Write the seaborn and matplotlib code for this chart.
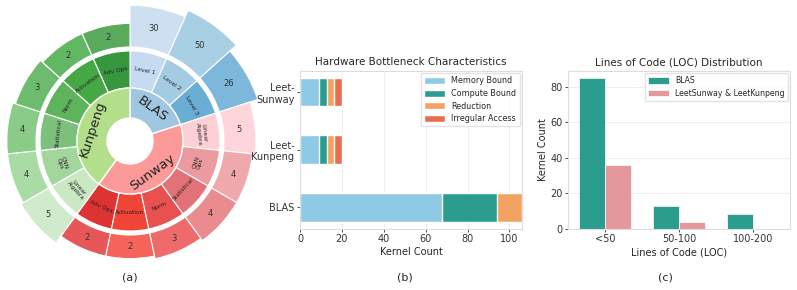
import numpy as np
import pandas as pd
import matplotlib
matplotlib.use("Agg")
import matplotlib.pyplot as plt
import seaborn as sns
from matplotlib.patches import Wedge, Patch

# ---------------- data: (a) sunburst ----------------
groups = ["BLAS", "Sunway", "Kunpeng"]
blas_cats = ["Level 1", "Level 2", "Level 3"]
blas_vals = [30, 50, 26]
sunway_cats = ["Linear\nAlgebra", "CNN\nOps", "Statistical", "Norm", "Activation", "Adv Ops"]
sunway_vals = [5, 4, 4, 3, 2, 2]
kunpeng_cats = ["Linear\nAlgebra", "CNN\nOps", "Statistical", "Norm", "Activation", "Adv Ops"]
kunpeng_vals = [5, 4, 4, 3, 2, 2]

# ---------------- data: (b) bottleneck ----------------
systems = ["Leet-\nSunway", "Leet-\nKunpeng", "BLAS"]
bottleneck_types = ["Memory Bound", "Compute Bound", "Reduction", "Irregular Access"]
memory_bound = [9, 9, 68]
compute_bound = [4, 4, 26]
reduction = [3, 3, 12]
irregular_access = [4, 4, 0]

# ---------------- data: (c) LOC ----------------
loc_bins = ["<50", "50-100", "100-200"]
loc_blas = [85, 13, 8]
loc_leet = [36, 4, 0]
loc_series = ["BLAS", "LeetSunway & LeetKunpeng"]

# ---------------- styles ----------------
group_colors = ["#9fc7e1", "#fb9a99", "#b3df8b"]
mid_colors = [
    ["#c6dbef", "#a3cbe2", "#6aaed6"],
    ["#fdd0d6", "#eb9a9f", "#e37178", "#e95050", "#f04437", "#de3333"],
    ["#c9e8c3", "#a3d69c", "#7cc07c", "#5db45d", "#45a845", "#37973f"],
]
outer_colors = [
    ["#cde0f1", "#a8cfe4", "#7db7dc"],
    ["#fdd5db", "#efa9ac", "#e98b8f", "#ef6b6b", "#f4645b", "#e65757"],
    ["#d0ebcc", "#a9dba4", "#8acb88", "#6dbc6d", "#62b862", "#5aaa5e"],
]
outer_extent = [(125, 18), (112, 14), (112, 14)]  # base radius, extra height

sns.set_theme(style="whitegrid")
plt.rcParams["font.family"] = ["DejaVu Sans"]
plt.rcParams.update({
    "axes.edgecolor": "#dddddd",
    "axes.linewidth": 0.8,
    "grid.color": "#eeeeee",
    "grid.linewidth": 0.8,
    "xtick.bottom": True,
    "ytick.left": True,
    "xtick.major.size": 2.5,
    "ytick.major.size": 2.5,
    "xtick.major.width": 0.6,
    "ytick.major.width": 0.6,
    "xtick.color": "#333333",
    "ytick.color": "#333333",
    "xtick.labelsize": 7,
    "ytick.labelsize": 7,
})

fig = plt.figure(figsize=(7.97, 2.90), dpi=100)

# ---------------- (a) sunburst ----------------
ax_a = fig.add_axes([0, 0, 270 / 797, 1])
ax_a.set_xlim(-130, 140)
ax_a.set_ylim(-149, 141)
ax_a.set_aspect("equal")
ax_a.axis("off")

all_cats = [blas_cats, sunway_cats, kunpeng_cats]
all_vals = [blas_vals, sunway_vals, kunpeng_vals]
n_leaves = sum(len(c) for c in all_cats)
step = 360.0 / n_leaves
R_HOLE, R_IN, R_MID, R_OUT0 = 23, 53, 90, 94


def tang_rot(mid):
    m = (mid + 180) % 360 - 180
    return m - 90 if m > 0 else m + 90


start = 90.0
for gi, g in enumerate(groups):
    g_start = start
    vals = all_vals[gi]
    base, h = outer_extent[gi]
    for ci, (c, v) in enumerate(zip(all_cats[gi], vals)):
        t2 = start
        t1 = start - step
        mid = (t1 + t2) / 2
        ax_a.add_patch(Wedge((0, 0), R_MID, t1, t2, width=R_MID - R_IN,
                             fc=mid_colors[gi][ci], ec="white", lw=0.8))
        R = base + h * v / max(vals)
        ax_a.add_patch(Wedge((0, 0), R, t1, t2, width=R - R_OUT0,
                             fc=outer_colors[gi][ci], ec="white", lw=0.8))
        rm = (R_IN + R_MID) / 2
        ax_a.text(rm * np.cos(np.radians(mid)), rm * np.sin(np.radians(mid)), c,
                  rotation=tang_rot(mid), rotation_mode="anchor", ha="center",
                  va="center", fontsize=4.2, color="#222222", linespacing=0.9)
        ro = (R_OUT0 + R) / 2
        ax_a.text(ro * np.cos(np.radians(mid)), ro * np.sin(np.radians(mid)), str(v),
                  ha="center", va="center", fontsize=6, color="#333333")
        start = t1
    ax_a.add_patch(Wedge((0, 0), R_IN, start, g_start, width=R_IN - R_HOLE,
                         fc=group_colors[gi], ec="white", lw=1))
    gm = (start + g_start) / 2
    rg = (R_HOLE + R_IN) / 2 + 1
    ax_a.text(rg * np.cos(np.radians(gm)), rg * np.sin(np.radians(gm)), g,
              rotation=tang_rot(gm), rotation_mode="anchor", ha="center",
              va="center", fontsize=9.5, color="#222222")

# ---------------- (b) stacked horizontal bars ----------------
bar_colors = ["#8ecae6", "#2a9d8f", "#f4a261", "#e76f51"]
ax_b = fig.add_axes([300 / 797, 1 - 228.7 / 290, 222 / 797, 158 / 290])
df_b = pd.DataFrame({"system": systems,
                     "Memory Bound": memory_bound,
                     "Compute Bound": compute_bound,
                     "Reduction": reduction,
                     "Irregular Access": irregular_access})
cum = df_b[bottleneck_types].cumsum(axis=1)
for col, color in reversed(list(zip(bottleneck_types, bar_colors))):
    sns.barplot(x=cum[col].values, y=df_b["system"].values, orient="h", color=color,
                width=0.5, saturation=1, ax=ax_b)
ax_b.set_xlim(0, 106)
ax_b.set_ylim(2.37, -0.37)
ax_b.set_xticks([0, 20, 40, 60, 80, 100])
ax_b.grid(axis="y", visible=False)
ax_b.grid(axis="x", visible=True)
ax_b.set_axisbelow(True)
ax_b.set_xlabel("Kernel Count", fontsize=7, labelpad=2)
ax_b.set_ylabel("")
ax_b.set_title("Hardware Bottleneck Characteristics", fontsize=7.5, pad=4)
ax_b.tick_params(axis="both", pad=1.5)
handles = [Patch(facecolor=c, label=l) for c, l in zip(bar_colors, bottleneck_types)]
ax_b.legend(handles=handles, loc="upper right", fontsize=5.8, frameon=True,
            edgecolor="#dddddd", fancybox=False, borderpad=0.4, labelspacing=0.45,
            handlelength=2.6, handleheight=0.9, borderaxespad=0.3)

# ---------------- (c) LOC distribution ----------------
ax_c = fig.add_axes([568.3 / 797, 1 - 228.7 / 290, 221.7 / 797, 158 / 290])
df_c = pd.DataFrame({"LOC": loc_bins * 2,
                     "count": loc_blas + loc_leet,
                     "set": [loc_series[0]] * 3 + [loc_series[1]] * 3})
sns.barplot(data=df_c, x="LOC", y="count", hue="set", order=loc_bins,
            palette=["#2a9d8f", "#e5989b"], width=0.7, saturation=1,
            edgecolor="white", linewidth=0.5, ax=ax_c)
ax_c.set_ylim(0, 89)
ax_c.set_xlim(-0.5, 2.5)
ax_c.set_yticks([0, 20, 40, 60, 80])
ax_c.grid(axis="x", visible=False)
ax_c.grid(axis="y", visible=True)
ax_c.set_axisbelow(True)
ax_c.set_xlabel("Lines of Code (LOC)", fontsize=7, labelpad=2)
ax_c.set_ylabel("Kernel Count", fontsize=7, labelpad=2)
ax_c.set_title("Lines of Code (LOC) Distribution", fontsize=7.5, pad=4)
ax_c.tick_params(axis="both", pad=1.5)
ax_c.legend(loc="upper right", fontsize=5.6, frameon=True, edgecolor="#dddddd",
            fancybox=False, title=None, borderpad=0.4, labelspacing=0.45,
            handlelength=2.6, handleheight=0.9, borderaxespad=0.3)

# ---------------- panel captions ----------------
fig.text(130 / 797, 1 - 277 / 290, "(a)", ha="center", va="center", fontsize=8)
fig.text(405 / 797, 1 - 277 / 290, "(b)", ha="center", va="center", fontsize=8)
fig.text(665 / 797, 1 - 277 / 290, "(c)", ha="center", va="center", fontsize=8)

fig.savefig("out.png", dpi=100)
